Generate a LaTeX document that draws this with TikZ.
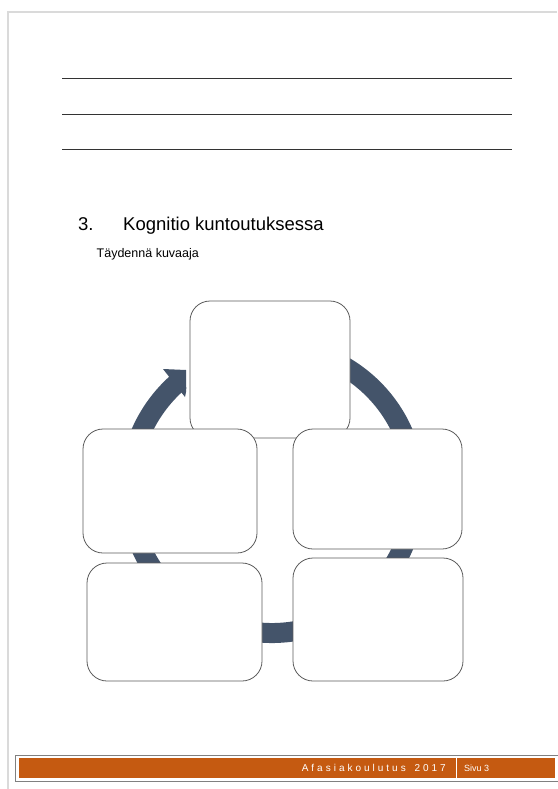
\documentclass[tikz,border=0pt]{standalone}
\usepackage{fontspec}
\setmainfont{Liberation Sans}
\definecolor{ringblue}{HTML}{44546A}
\definecolor{footorange}{HTML}{C55A11}
\definecolor{pageedge}{HTML}{DADADA}
\definecolor{boxline}{HTML}{5C5C5C}
\definecolor{ruleline}{HTML}{333333}
\begin{document}
\begin{tikzpicture}[x=1pt,y=-1pt,
  cyclebox/.style={draw=boxline, line width=0.8pt, fill=white, rounded corners=20pt, inner sep=0pt},
  writeline/.style={draw=ruleline, line width=0.9pt},
  plaintext/.style={inner sep=0pt, anchor=base west},
  footbar/.style={fill=footorange}]
\useasboundingbox (0,0) rectangle (557,789);
\fill[white] (0,0) rectangle (557,789);

% page edge
\draw[pageedge, line width=1.5pt] (8,789) -- (8,12) -- (557,12);

% answer lines
\coordinate (l1a) at (62,78);  \coordinate (l1b) at (512,78);
\coordinate (l2a) at (62,114); \coordinate (l2b) at (512,114);
\coordinate (l3a) at (62,149); \coordinate (l3b) at (512,149);
\draw[writeline] (l1a) -- (l1b);
\draw[writeline] (l2a) -- (l2b);
\draw[writeline] (l3a) -- (l3b);

% heading
\node[plaintext, font=\fontsize{18.5}{22}\selectfont] (num) at (78,230) {3.};
\node[plaintext, font=\fontsize{18.5}{22}\selectfont] (title) at (123,230) {Kognitio kuntoutuksessa};
\node[plaintext, font=\fontsize{12.5}{15}\selectfont] (sub) at (96.5,257) {Täydennä kuvaaja};

% cycle ring with arrow head
\coordinate (ringc) at (272,490);
\draw[ringblue, line width=20pt] (ringc) ++(-100:143) arc[start angle=-100, end angle=230, radius=143];
\fill[ringblue] (163,369) -- (186,370) -- (186,392) -- (185,397) -- cycle;

% boxes
\node[cyclebox, minimum width=160pt, minimum height=137pt] (top) at (270,369.5) {};
\node[cyclebox, minimum width=174pt, minimum height=124pt] (midleft) at (170,491) {};
\node[cyclebox, minimum width=169pt, minimum height=120pt] (midright) at (377.5,489) {};
\node[cyclebox, minimum width=175pt, minimum height=118pt] (botleft) at (174.5,622) {};
\node[cyclebox, minimum width=170pt, minimum height=123pt] (botright) at (378,619.5) {};

% footer
\draw[gray, line width=1pt] (15.5,755) rectangle (560,781);
\fill[footbar] (18.5,757.5) rectangle (455.5,778);
\fill[footbar] (457,757.5) rectangle (554.5,778);
\node[inner sep=0pt, anchor=base east, text=white, font=\fontsize{10}{12}\selectfont] (foottext) at (446,771.5)
  {\makebox[144pt][s]{A\hfill f\hfill a\hfill s\hfill i\hfill a\hfill k\hfill o\hfill u\hfill l\hfill u\hfill t\hfill u\hfill s\hfill\ \hfill 2\hfill 0\hfill 1\hfill 7}};
\node[plaintext, text=white, font=\fontsize{9}{11}\selectfont] (page) at (464,771.5) {Sivu 3};
\end{tikzpicture}
\end{document}
